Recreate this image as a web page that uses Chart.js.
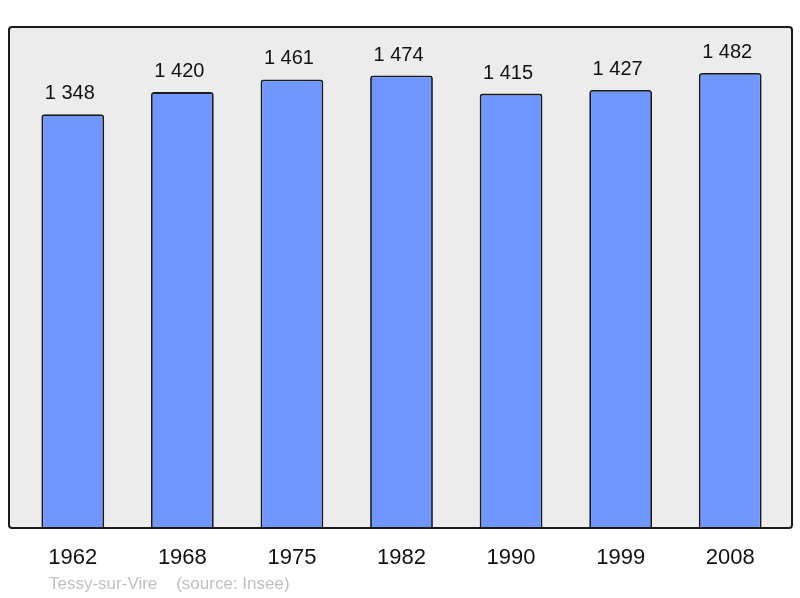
<!DOCTYPE html>
<html>
<head>
<meta charset="utf-8">
<script src="https://cdn.jsdelivr.net/npm/chart.js@4/dist/chart.umd.min.js"></script>
<style>
  html, body { margin: 0; padding: 0; background: #fff; }
  #wrap { width: 800px; height: 598px; }
</style>
</head>
<body>
<div id="wrap"><canvas id="popChart" width="800" height="598"></canvas></div>
<script>
// Population data
var years = ["1962", "1968", "1975", "1982", "1990", "1999", "2008"];
var population = [1348, 1420, 1461, 1474, 1415, 1427, 1482];
var yMax = 1632;
var footerText = "Tessy-sur-Vire    (source: Insee)";

// French style thousands: "1 348"
function formatNumber(n) {
  return String(n).replace(/\B(?=(\d{3})+(?!\d))/g, " ");
}

// Grey rounded frame behind the bars
function framePath(chart) {
  var a = chart.chartArea;
  var ctx = chart.ctx;
  ctx.beginPath();
  ctx.roundRect(a.left - 9, a.top, a.right - a.left + 16, a.bottom - a.top, 3);
}

var framePlugin = {
  id: "frame",
  beforeDraw: function (chart) {
    var ctx = chart.ctx;
    ctx.save();
    framePath(chart);
    ctx.fillStyle = "#ececec";
    ctx.fill();
    ctx.restore();
  },
  afterDatasetsDraw: function (chart) {
    var ctx = chart.ctx;
    ctx.save();
    framePath(chart);
    ctx.lineWidth = 2;
    ctx.strokeStyle = "#1a1a1a";
    ctx.stroke();
    ctx.restore();
  }
};

// Value labels above each bar + footer
var labelPlugin = {
  id: "valueLabels",
  afterDraw: function (chart) {
    var ctx = chart.ctx;
    var meta = chart.getDatasetMeta(0);
    ctx.save();
    ctx.font = "20px 'Liberation Sans', Arial, sans-serif";
    ctx.fillStyle = "#111";
    ctx.textAlign = "center";
    ctx.textBaseline = "alphabetic";
    meta.data.forEach(function (bar, i) {
      ctx.fillText(formatNumber(population[i]), bar.x - 3, bar.y - 15);
    });
    ctx.font = "17px 'Liberation Sans', Arial, sans-serif";
    ctx.fillStyle = "#c0c0c0";
    ctx.textAlign = "left";
    ctx.textBaseline = "middle";
    ctx.fillText(footerText, 49, 584);
    ctx.restore();
  }
};

var ctx = document.getElementById("popChart").getContext("2d");
new Chart(ctx, {
  type: "bar",
  data: {
    labels: years,
    datasets: [
      {
        data: population,
        backgroundColor: "#7096ff",
        borderColor: "#1a1a1a",
        borderWidth: 1.8,
        borderRadius: { topLeft: 3, topRight: 3 },
        borderSkipped: "bottom",
        barPercentage: 0.573,
        categoryPercentage: 1
      }
    ]
  },
  options: {
    responsive: false,
    animation: false,
    layout: { padding: { left: 18, right: 15, top: 27, bottom: 0 } },
    plugins: {
      legend: { display: false },
      tooltip: { enabled: false }
    },
    scales: {
      x: {
        grid: { display: false, drawTicks: false },
        border: { display: false },
        ticks: {
          color: "#111",
          padding: 17,
          font: { family: "'Liberation Sans', Arial, sans-serif", size: 22 }
        },
        afterFit: function (scale) { scale.height = 70; }
      },
      y: {
        display: false,
        min: 0,
        max: yMax
      }
    }
  },
  plugins: [framePlugin, labelPlugin]
});
</script>
</body>
</html>
